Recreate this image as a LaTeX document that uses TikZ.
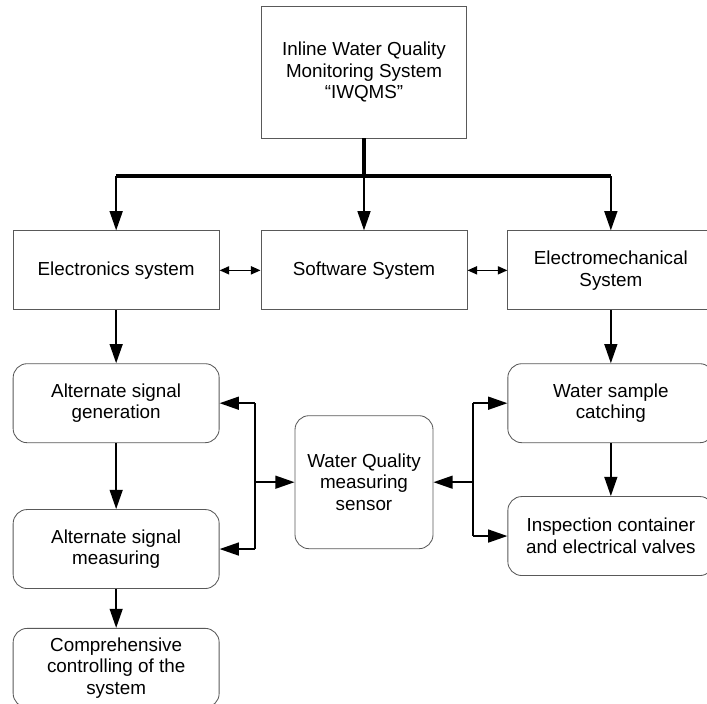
\documentclass[tikz,border=0pt]{standalone}
\usepackage{fontspec}
\setmainfont{Liberation Sans}
\usetikzlibrary{arrows.meta,positioning}

\begin{document}
\begin{tikzpicture}[node distance=1.0cm, every node/.style={font=\fontsize{13.4}{15.4}\selectfont}]
\tikzset{blk/.style={draw=black!65, line width=0.6pt, align=center, minimum width=5.15cm, minimum height=1.975cm, inner sep=2pt}}
\tikzset{rblk/.style={blk, rounded corners=0.35cm}}
\tikzset{arr/.style={line width=1.4pt, -{Triangle[length=0.48cm, width=0.32cm]}}}
\tikzset{dbl/.style={line width=1.2pt, {Triangle[length=0.24cm, width=0.2cm]}-{Triangle[length=0.24cm, width=0.2cm]}}}
\useasboundingbox (0,0) rectangle (17.675,-17.575);
\node[blk, minimum width=5.125cm, minimum height=3.3cm] (iwqms) at (9.1,-1.8) {Inline Water Quality\\Monitoring System\\“IWQMS”};
\node[blk, below=2.3cm of iwqms] (soft) {Software System};
\node[blk, left=1.025cm of soft] (elec) {Electronics system};
\node[blk, right=1.0cm of soft] (emech) {Electromechanical\\System};
\node[rblk, below=1.325cm of elec] (agen) {Alternate signal\\generation};
\node[rblk, below=1.65cm of agen] (ameas) {Alternate signal\\measuring};
\node[rblk, below=0.975cm of ameas] (comp) {Comprehensive\\controlling of the\\system};
\node[rblk, below=1.325cm of emech] (catch) {Water sample\\catching};
\node[rblk, below=1.325cm of catch] (insp) {Inspection container\\and electrical valves};
\node[rblk, below=2.625cm of soft, minimum width=3.45cm, minimum height=3.325cm] (sensor) {Water Quality\\measuring\\sensor};
\coordinate[below=0.95cm of iwqms] (bus);
\coordinate[right=0.875cm of agen] (lj);
\coordinate[left=0.85cm of catch] (rj);
% main bus
\draw[line width=2.8pt] (iwqms) -- (bus);
\draw[line width=2.8pt] (bus -| elec) -- (bus -| emech);
\draw[arr] (bus -| elec) -- (elec);
\draw[arr] (bus) -- (soft);
\draw[arr] (bus -| emech) -- (emech);
\draw[dbl] (elec) -- (soft);
\draw[dbl] (soft) -- (emech);
% columns
\draw[arr] (elec) -- (agen);
\draw[arr] (agen) -- (ameas);
\draw[arr] (ameas) -- (comp);
\draw[arr] (emech) -- (catch);
\draw[arr] (catch) -- (insp);
% sensor links
\draw[line width=1.4pt] (lj |- agen) -- (lj |- ameas);
\draw[arr] (lj |- agen) -- (agen);
\draw[arr] (lj |- ameas) -- (ameas);
\draw[arr] (lj |- sensor) -- (sensor);
\draw[line width=1.4pt] (rj |- catch) -- (rj |- insp);
\draw[arr] (rj |- sensor) -- (sensor);
\draw[arr] (rj |- catch) -- (catch);
\draw[arr] (rj |- insp) -- (insp);
\end{tikzpicture}
\end{document}
